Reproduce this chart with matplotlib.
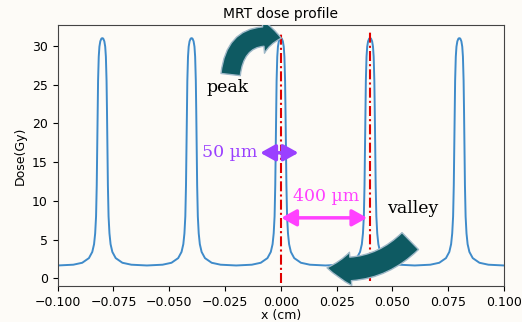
import numpy as np
import matplotlib
matplotlib.use("Agg")
import matplotlib.pyplot as plt
from matplotlib.patches import FancyArrowPatch

# one peak: distance from the peak centre (cm) and dose (Gy)
half_offset = [0.0, 0.0004, 0.0009, 0.0013, 0.0016, 0.0019, 0.0021, 0.0023,
               0.0025, 0.0028, 0.0032, 0.0037, 0.0045, 0.0060, 0.0090,
               0.0130, 0.0200]
half_dose = [31.0, 30.95, 30.6, 29.9, 28.6, 25.5, 21.5, 16.5,
             12.0, 8.0, 5.8, 4.4, 3.4, 2.6, 2.0,
             1.75, 1.65]
peak_centres = [-0.08, -0.04, 0.0, 0.04, 0.08]

marker_x = [0.0, 0.04]          # red dash-dot guides
marker_bottom = [-0.6, -0.3]
marker_top = 31.8

BG = "#fdfbf7"
TEAL = "#0e5a62"
PURPLE = "#9a40ff"
MAGENTA = "#ff40ff"

# build the profile: each peak mirrored about its centre
off = np.array(half_offset)
dose = np.array(half_dose)
peak_x = np.concatenate([-off[::-1], off[1:]])
peak_y = np.concatenate([dose[::-1], dose[1:]])
xs, ys = [], []
for c in peak_centres:
    xs.append(c + peak_x[:-1])
    ys.append(peak_y[:-1])
x = np.concatenate(xs + [[peak_centres[-1] + peak_x[-1]]])
y = np.concatenate(ys + [[peak_y[-1]]])

plt.rcParams["font.size"] = 9

fig = plt.figure(figsize=(5.22, 3.22), dpi=100, facecolor=BG)
ax = fig.add_axes([0.1105, 0.1118, 0.855, 0.8106], facecolor=BG)

ax.plot(x, y, color="#3f8bca", lw=1.4)
for mx, mb in zip(marker_x, marker_bottom):
    ax.plot([mx, mx], [mb, marker_top], color="#e00000", lw=1.5,
            linestyle=(0, (4.8, 1.5, 1, 1.5)))

ax.set_xlim(-0.1, 0.1)
ax.set_ylim(-1.0, 32.7)
ax.set_title("MRT dose profile", fontsize=10, pad=5)
ax.set_xlabel("x (cm)", labelpad=0)
ax.set_ylabel("Dose(Gy)")
for s in ax.spines.values():
    s.set_color("#444444")

# curved call-out arrows
peak_arrow = FancyArrowPatch((-0.0225, 26.3), (0.0002, 31.0),
                             arrowstyle="simple,head_length=13,head_width=24,tail_width=14",
                             connectionstyle="arc3,rad=-0.55", mutation_scale=1,
                             fc=TEAL, ec="#9fb8c8", lw=1, shrinkA=0, shrinkB=0, zorder=5)
valley_arrow = FancyArrowPatch((0.0580, 4.8), (0.0207, 1.35),
                               arrowstyle="simple,head_length=17,head_width=24,tail_width=17",
                               connectionstyle="arc3,rad=-0.25", mutation_scale=1,
                               fc=TEAL, ec="#9fb8c8", lw=1, shrinkA=0, shrinkB=0, zorder=5)
ax.add_patch(peak_arrow)
ax.add_patch(valley_arrow)

# width / spacing arrows
ax.add_patch(FancyArrowPatch((-0.0092, 16.2), (0.0079, 16.2),
                             arrowstyle="<|-|>,head_length=9,head_width=5",
                             mutation_scale=1, color=PURPLE, lw=2.5,
                             shrinkA=0, shrinkB=0, zorder=6))
ax.add_patch(FancyArrowPatch((0.0002, 7.8), (0.0387, 7.8),
                             arrowstyle="<|-|>,head_length=9,head_width=5",
                             mutation_scale=1, color=MAGENTA, lw=2.5,
                             shrinkA=0, shrinkB=0, zorder=6))

ax.text(-0.024, 24.6, "peak", family="DejaVu Serif", fontsize=12.5,
        ha="center", va="center", color="black")
ax.text(0.059, 9.0, "valley", family="DejaVu Serif", fontsize=12.5,
        ha="center", va="center", color="black")
ax.text(-0.0105, 16.2, "50 µm", family="DejaVu Serif", fontsize=12.5,
        ha="right", va="center", color=PURPLE)
ax.text(0.0204, 10.6, "400 µm", family="DejaVu Serif", fontsize=12.5,
        ha="center", va="center", color=MAGENTA)

fig.savefig("out.png", dpi=100, facecolor=BG)
